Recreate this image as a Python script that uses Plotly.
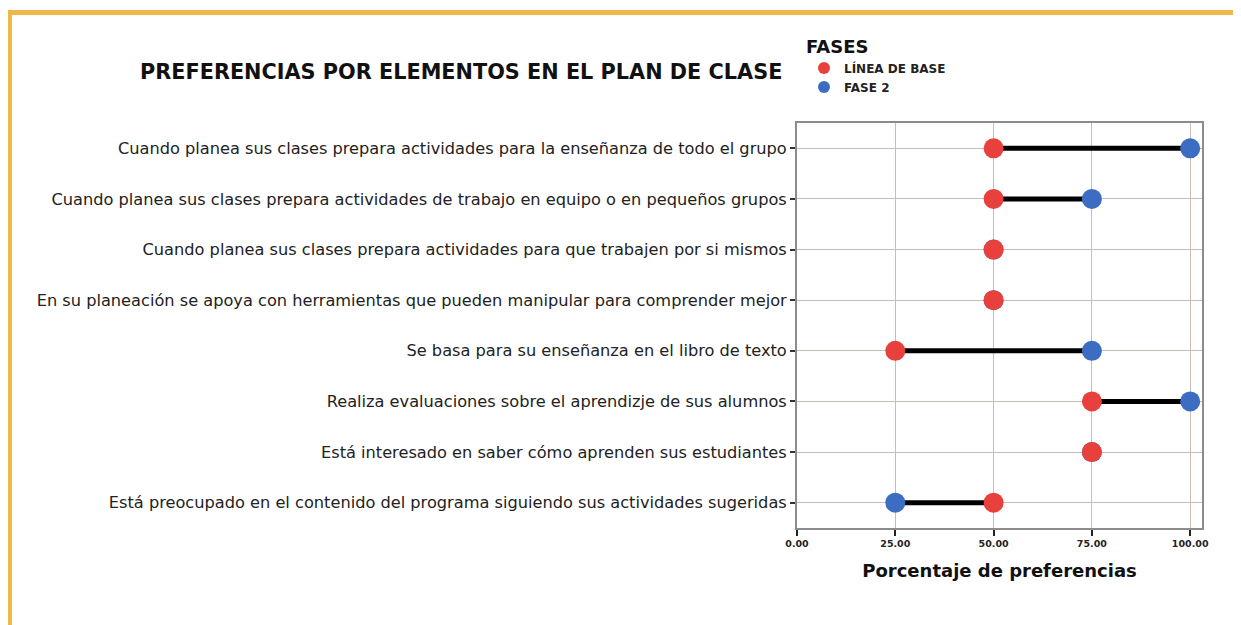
import plotly.graph_objects as go

# Datos
CATEGORIAS = [
    "Cuando planea sus clases prepara actividades para la enseñanza de todo el grupo",
    "Cuando planea sus clases prepara actividades de trabajo en equipo o en pequeños grupos",
    "Cuando planea sus clases prepara actividades para que trabajen por si mismos",
    "En su planeación se apoya con herramientas que pueden manipular para comprender mejor",
    "Se basa para su enseñanza en el libro de texto",
    "Realiza evaluaciones sobre el aprendizje de sus alumnos",
    "Está interesado en saber cómo aprenden sus estudiantes",
    "Está preocupado en el contenido del programa siguiendo sus actividades sugeridas",
]
LINEA_BASE = [50, 50, 50, 50, 25, 75, 75, 50]
FASE_2 = [100, 75, 50, 50, 75, 100, 75, 25]
TICKS_X = [0, 25, 50, 75, 100]

ROJO = "#E8403C"
AZUL = "#3D6DC2"
NARANJA = "#EFB94A"
FUENTE = "DejaVu Sans, Liberation Sans, Arial, sans-serif"

# la página deja 8px de margen en el body: se compensa aquí
OFF = 8
W, H = 1241 - OFF, 625 - OFF
L, R, T, B = 797 - OFF, 1202 - OFF, 123 - OFF, 528 - OFF


def px(x):
    # x en píxeles de la página -> coordenada paper
    return (x - OFF - L) / (R - L)


def py(y):
    return (B - (y - OFF)) / (B - T)


# segmentos de unión (línea negra entre fases)
seg_x, seg_y = [], []
for cat, a, b in zip(CATEGORIAS, LINEA_BASE, FASE_2):
    seg_x += [a, b, None]
    seg_y += [cat, cat, None]

fig = go.Figure()
fig.add_scatter(
    x=seg_x, y=seg_y, mode="lines",
    line=dict(color="black", width=5),
    showlegend=False, hoverinfo="skip"
)
fig.add_scatter(
    x=FASE_2, y=CATEGORIAS, mode="markers", name="<b>FASE 2</b>",
    marker=dict(color=AZUL, size=20), legendrank=2
)
fig.add_scatter(
    x=LINEA_BASE, y=CATEGORIAS, mode="markers", name="<b>LÍNEA DE BASE</b>",
    marker=dict(color=ROJO, size=20), legendrank=1
)

fig.update_layout(
    width=W, height=H,
    margin=dict(l=L, r=W - R, t=T, b=H - B),
    paper_bgcolor="white", plot_bgcolor="white",
    font=dict(family=FUENTE, color="#1a1a1a"),
    title=dict(
        text="<b>PREFERENCIAS POR ELEMENTOS EN EL PLAN DE CLASE</b>",
        x=(140 - OFF) / W, xanchor="left", xref="container",
        y=1 - (72 - OFF) / H, yanchor="middle",
        font=dict(size=20.8, color="#111")
    ),
    legend=dict(
        title=dict(text="<b>FASES</b>", font=dict(size=18, color="#111")),
        x=px(804), y=py(30), xanchor="left", yanchor="top",
        font=dict(size=12, color="#222"),
        bgcolor="rgba(0,0,0,0)", tracegroupgap=0, itemsizing="constant",
        itemwidth=30,
    ),
    xaxis=dict(
        range=[0, 103], tickvals=TICKS_X, tickformat=".2f",
        tickfont=dict(size=9.5, color="#222", weight="bold"),
        ticks="outside", ticklen=6, tickwidth=2, tickcolor="#222",
        showgrid=True, gridcolor="#c9bdb8", gridwidth=1,
        showline=True, linecolor="#8c8c8c", linewidth=2, mirror=True,
        zeroline=False,
        title=dict(text="<b>Porcentaje de preferencias</b>",
                   font=dict(size=18, color="#111"), standoff=16),
    ),
    yaxis=dict(
        categoryorder="array", categoryarray=CATEGORIAS[::-1],
        range=[-0.5, 7.5],
        tickfont=dict(size=16.2, color="#222"),
        ticks="outside", ticklen=5, tickwidth=2, tickcolor="#333",
        showgrid=True, gridcolor="#c9bdb8", gridwidth=1,
        showline=True, linecolor="#8c8c8c", linewidth=2, mirror=True,
        zeroline=False,
    ),
    shapes=[
        dict(type="line", xref="paper", yref="paper",
             x0=px(0), x1=px(1241), y0=py(12.5), y1=py(12.5),
             line=dict(color=NARANJA, width=5)),
        dict(type="line", xref="paper", yref="paper",
             x0=px(9.5), x1=px(9.5), y0=py(10), y1=py(625),
             line=dict(color=NARANJA, width=5)),
    ],
)

fig.write_html("out.html")
